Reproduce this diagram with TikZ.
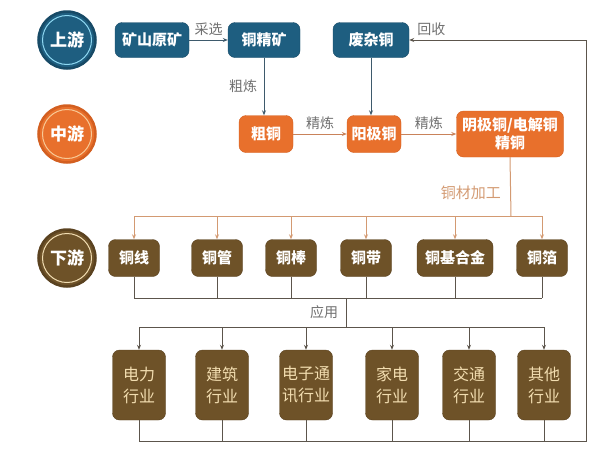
\documentclass[tikz,border=0pt]{standalone}
\usepackage{fontspec}
\setmainfont{Noto Sans CJK SC}
\usepackage{tikz}
\usetikzlibrary{arrows.meta, positioning, calc}

\definecolor{upblue}{HTML}{1E5E80}
\definecolor{updark}{HTML}{174A66}
\definecolor{upring}{HTML}{8ED8F2}
\definecolor{midorange}{HTML}{E8702C}
\definecolor{middark}{HTML}{D35F20}
\definecolor{midring}{HTML}{F8C996}
\definecolor{downbrown}{HTML}{6E5228}
\definecolor{downdark}{HTML}{5A4220}
\definecolor{downring}{HTML}{F1DDB2}
\definecolor{indtext}{HTML}{F2DDB0}
\definecolor{lblgray}{HTML}{707070}
\definecolor{upline}{HTML}{3E5A6C}
\definecolor{midline}{HTML}{C9825A}
\definecolor{procline}{HTML}{D39A72}
\definecolor{mergeline}{HTML}{5C554C}

\begin{document}
\begin{tikzpicture}[x=1pt,y=-1pt]
    \tikzstyle{every node} = [font=\fontsize{15}{17}\selectfont]
    \tikzstyle{stage} = [circle, minimum size=57pt, line width=2.5pt, text=white, font=\fontsize{17}{19}\selectfont\bfseries]
    \tikzstyle{block} = [rectangle, rounded corners=7pt, text=white, font=\fontsize{15}{17}\selectfont\bfseries, inner sep=2pt, minimum height=35pt]
    \tikzstyle{upbox} = [block, fill=upblue, draw=updark, minimum width=74pt]
    \tikzstyle{midbox} = [block, fill=midorange, draw=middark, minimum width=54pt, minimum height=37pt]
    \tikzstyle{downbox} = [block, fill=downbrown, draw=downdark, minimum width=51pt, minimum height=37pt]
    \tikzstyle{usebox} = [downbox, minimum width=53pt, minimum height=70pt, align=center, text=indtext, font=\fontsize{16}{22}\selectfont]
    \tikzstyle{lbl} = [text=lblgray, font=\fontsize{14}{16}\selectfont]
    \tikzstyle{flow} = [-{Stealth[length=5pt,width=4pt]}, line width=1pt]
    \useasboundingbox (0,0) rectangle (595,464);

    % stage circles
    \node[stage, fill=upblue, draw=updark] (upstream) at (67,40) {上游};
    \node[stage, fill=midorange, draw=middark] (midstream) at (67,134) {中游};
    \node[stage, fill=downbrown, draw=downdark] (downstream) at (67,258) {下游};
    \draw[upring, line width=1pt] (upstream.center) circle[radius=24.5pt];
    \draw[midring, line width=1pt] (midstream.center) circle[radius=24.5pt];
    \draw[downring, line width=1pt] (downstream.center) circle[radius=24.5pt];

    % place nodes
    \node[upbox] (rawOre) at (152,40) {矿山原矿};
    \node[upbox, minimum width=72pt] (concentrate) at (264,40) {铜精矿};
    \node[upbox, minimum width=76pt] (scrapCopper) at (371,40) {废杂铜};
    \node[midbox] (blisterCopper) at (266,134) {粗铜};
    \node[midbox] (anodeCopper) at (374,134) {阳极铜};
    \node[midbox, minimum width=107pt, minimum height=46pt, align=center, font=\fontsize{15}{18}\selectfont\bfseries] (cathodeCopper) at (510,134) {阴极铜/电解铜\\精铜};

    \node[downbox] (wire) at (134,258) {铜线};
    \node[downbox] (tube) at (217,258) {铜管};
    \node[downbox] (rod) at (291,258) {铜棒};
    \node[downbox] (strip) at (366,258) {铜带};
    \node[downbox, minimum width=76pt] (alloy) at (455,258) {铜基合金};
    \node[downbox] (foil) at (542,258) {铜箔};

    \node[usebox] (power) at (139,385) {电力\\行业};
    \node[usebox] (building) at (222,385) {建筑\\行业};
    \node[usebox] (telecom) at (306,385) {电子通\\讯行业};
    \node[usebox] (appliance) at (392,385) {家电\\行业};
    \node[usebox] (traffic) at (469,385) {交通\\行业};
    \node[usebox] (other) at (544,385) {其他\\行业};

    \coordinate (split) at (511,216);
    \coordinate (merge) at (346,298);
    \coordinate (apply) at (346,327);
    \coordinate (bottomLine) at (586,441);
    \coordinate (recycleTop) at (586,40);

    % Connections
    \draw[flow, upline]
    (rawOre.east)--node[lbl, above=1pt]{采选}(concentrate.west);
    \draw[flow, upline]
    (concentrate.south)--node[lbl, left=3pt]{粗炼}(concentrate.south |- blisterCopper.north);
    \draw[flow, upline]
    (scrapCopper.south)--(scrapCopper.south |- anodeCopper.north);
    \draw[flow, midline]
    (blisterCopper.east)--node[lbl, above=1pt]{精炼}(anodeCopper.west);
    \draw[flow, midline]
    (anodeCopper.east)--node[lbl, above=1pt]{精炼}(cathodeCopper.west);

    \draw[procline, line width=1pt]
    (cathodeCopper.south)--node[pos=0.6, left=6pt, text=procline]{铜材加工}(split);
    \draw[procline, line width=1pt] (wire.north |- split)--(foil.north |- split);
    \foreach \n in {wire,tube,rod,strip,alloy,foil}
        \draw[flow, procline] (\n.north |- split)--(\n.north);

    \foreach \n in {wire,tube,rod,strip,alloy,foil}
        \draw[mergeline, line width=1pt] (\n.south)--(\n.south |- merge);
    \draw[mergeline, line width=1pt] (wire.south |- merge)--(foil.south |- merge);
    \draw[mergeline, line width=1pt]
    (merge)--node[lbl, left=4pt]{应用}(apply);
    \draw[mergeline, line width=1pt] (power.north |- apply)--(other.north |- apply);
    \foreach \n in {power,building,telecom,appliance,traffic,other}
        \draw[flow, mergeline] (\n.north |- apply)--(\n.north);

    \foreach \n in {power,building,telecom,appliance,traffic,other}
        \draw[mergeline, line width=1pt] (\n.south)--(\n.south |- bottomLine);
    \draw[flow, mergeline]
    (power.south |- bottomLine)--(bottomLine)--(recycleTop)--node[very near end, lbl, above=1pt]{回收}(scrapCopper.east);

\end{tikzpicture}
\end{document}
